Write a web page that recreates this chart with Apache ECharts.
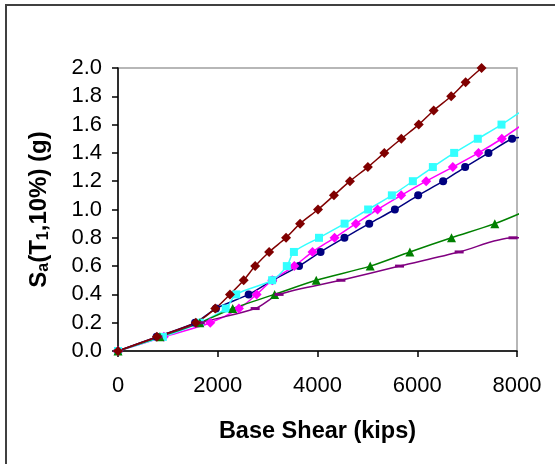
<!DOCTYPE html>
<html>
<head>
<meta charset="utf-8">
<script src="https://cdn.jsdelivr.net/npm/echarts@6/dist/echarts.min.js"></script>
<style>
html,body{margin:0;padding:0;background:#fff;}
#chart{width:555px;height:464px;}
</style>
</head>
<body>
<div id="chart"></div>
<script>
// Base shear (kips) vs Sa(T1,10%) (g)
var xTicks = [0, 2000, 4000, 6000, 8000];
var yTicks = [0.0, 0.2, 0.4, 0.6, 0.8, 1.0, 1.2, 1.4, 1.6, 1.8, 2.0];

var navyX = [0, 775, 1545, 1964, 2620, 3100, 3630, 4062, 4540, 5037, 5551, 6018, 6519, 6960, 7428, 7902, 8110];
var navyY = [0, 0.1, 0.2, 0.3, 0.4, 0.5, 0.6, 0.7, 0.8, 0.9, 1.0, 1.1, 1.2, 1.3, 1.4, 1.5, 1.51];

var magentaX = [0, 920, 1850, 2425, 2780, 3093, 3535, 3900, 4342, 4770, 5204, 5678, 6179, 6713, 7228, 7695, 8110];
var magentaY = [0, 0.1, 0.2, 0.3, 0.4, 0.5, 0.6, 0.7, 0.8, 0.9, 1.0, 1.1, 1.2, 1.3, 1.4, 1.5, 1.6];

var cyanX = [0, 900, 1640, 2160, 2370, 3090, 3385, 3527, 4030, 4543, 5015, 5491, 5912, 6313, 6740, 7214, 7689, 8110];
var cyanY = [0, 0.1, 0.2, 0.3, 0.4, 0.5, 0.6, 0.7, 0.8, 0.9, 1.0, 1.1, 1.2, 1.3, 1.4, 1.5, 1.6, 1.7];

var greenX = [0, 840, 1640, 2300, 3140, 3975, 5057, 5852, 6687, 7555, 8110];
var greenY = [0, 0.1, 0.2, 0.3, 0.4, 0.5, 0.6, 0.7, 0.8, 0.9, 0.98];

var purpleX = [0, 800, 1650, 2750, 3230, 4470, 5645, 6840, 7920, 8110];
var purpleY = [0, 0.1, 0.2, 0.3, 0.4, 0.5, 0.6, 0.7, 0.8, 0.8];

var brownX = [0, 780, 1560, 1950, 2245, 2520, 2750, 3030, 3370, 3650, 4010, 4330, 4650, 5010, 5340, 5680, 6030, 6330, 6680, 6970, 7290];
var brownY = [0, 0.1, 0.2, 0.3, 0.4, 0.5, 0.6, 0.7, 0.8, 0.9, 1.0, 1.1, 1.2, 1.3, 1.4, 1.5, 1.6, 1.7, 1.8, 1.9, 2.0];

function pts(xs, ys) {
  return xs.map(function (x, i) {
    var p = { value: [x, ys[i]] };
    if (x > 8000) p.symbol = 'none';
    return p;
  });
}

function mk(name, xs, ys, color, symbol, size) {
  return {
    name: name, type: 'line', data: pts(xs, ys), smooth: 0.3,
    clip: false, symbol: symbol, symbolSize: size, showSymbol: true,
    lineStyle: { color: color, width: 1.5 },
    itemStyle: { color: color, borderWidth: 0 },
    emphasis: { disabled: true }, animation: false
  };
}

var chart = echarts.init(document.getElementById('chart'));
var font = '"Liberation Sans", Arial, sans-serif';
chart.setOption({
  animation: false,
  backgroundColor: '#ffffff',
  textStyle: { fontFamily: font },
  graphic: [{
    type: 'rect', shape: { x: 6, y: 5, width: 700, height: 600 },
    style: { fill: 'none', stroke: '#404040', lineWidth: 2 }, silent: true, z: -1
  }],
  grid: { left: 118, right: 38, top: 68, bottom: 113, show: true, borderColor: '#a0a0a0', borderWidth: 1.5, backgroundColor: 'transparent' },
  xAxis: {
    type: 'value', min: xTicks[0], max: xTicks[xTicks.length - 1], interval: 2000,
    name: 'Base Shear (kips)', nameLocation: 'middle', nameGap: 69,
    nameTextStyle: { fontSize: 23.5, fontWeight: 'bold', color: '#000', fontFamily: font },
    axisLine: { show: true, lineStyle: { color: '#000', width: 1.5 } },
    axisTick: { show: true, length: 6, lineStyle: { color: '#000', width: 1.5 } },
    axisLabel: { fontSize: 22, color: '#000', margin: 24, fontFamily: font, formatter: function (v) { return String(v); } },
    splitLine: { show: false }
  },
  yAxis: {
    type: 'value', min: yTicks[0], max: yTicks[yTicks.length - 1], interval: 0.2,
    name: '{b|S}{s|a}{b|(T}{s|1}{b|,10%) (g)}', nameLocation: 'middle', nameGap: 66, nameRotate: 90,
    nameTextStyle: {
      color: '#000', fontFamily: font,
      rich: {
        b: { fontSize: 24, fontWeight: 'bold', color: '#000', fontFamily: font, lineHeight: 26 },
        s: { fontSize: 16, fontWeight: 'bold', color: '#000', fontFamily: font, lineHeight: 26, verticalAlign: 'bottom', padding: [6, 0, 0, 0] }
      }
    },
    axisLine: { show: true, lineStyle: { color: '#000', width: 1.5 } },
    axisTick: { show: true, length: 6, lineStyle: { color: '#000', width: 1.5 } },
    axisLabel: { fontSize: 22, color: '#000', margin: 16, fontFamily: font, formatter: function (v) { return v.toFixed(1); } },
    splitLine: { show: false }
  },
  series: [
    mk('navy', navyX, navyY, '#000080', 'circle', 8),
    mk('magenta', magentaX, magentaY, '#FF00FF', 'diamond', 10),
    mk('cyan', cyanX, cyanY, '#33FFFF', 'rect', 8),
    mk('green', greenX, greenY, '#008000', 'triangle', 9),
    mk('purple', purpleX, purpleY, '#800080', 'rect', [9, 3]),
    mk('brown', brownX, brownY, '#800000', 'diamond', 10)
  ]
});
</script>
</body>
</html>
